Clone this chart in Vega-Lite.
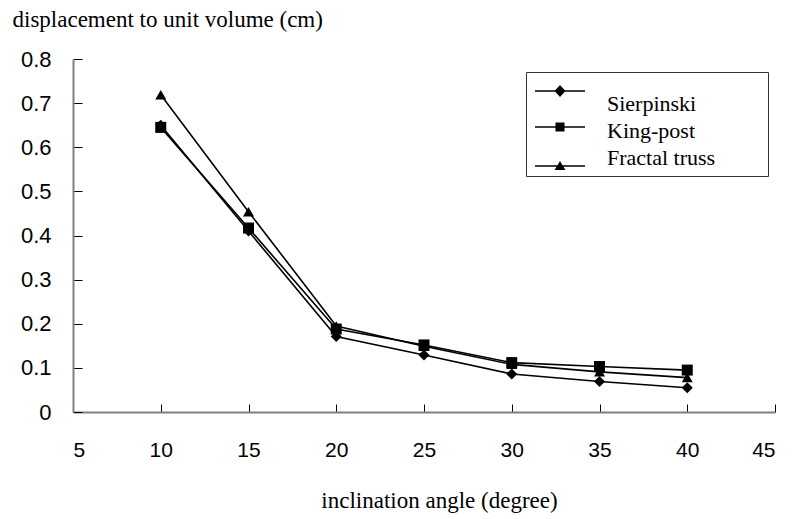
{
  "$schema": "https://vega.github.io/schema/vega-lite/v6.json",
  "width": 702,
  "height": 353,
  "autosize": {"type": "none"},
  "padding": {"left": 73, "top": 59, "right": 17, "bottom": 107},
  "background": "white",
  "config": {"view": {"stroke": null}},
  "data": {
    "values": [
      {"angle": 10, "disp": 0.650, "series": "Sierpinski"},
      {"angle": 15, "disp": 0.410, "series": "Sierpinski"},
      {"angle": 20, "disp": 0.171, "series": "Sierpinski"},
      {"angle": 25, "disp": 0.129, "series": "Sierpinski"},
      {"angle": 30, "disp": 0.086, "series": "Sierpinski"},
      {"angle": 35, "disp": 0.069, "series": "Sierpinski"},
      {"angle": 40, "disp": 0.055, "series": "Sierpinski"},
      {"angle": 10, "disp": 0.645, "series": "King-post"},
      {"angle": 15, "disp": 0.417, "series": "King-post"},
      {"angle": 20, "disp": 0.188, "series": "King-post"},
      {"angle": 25, "disp": 0.152, "series": "King-post"},
      {"angle": 30, "disp": 0.112, "series": "King-post"},
      {"angle": 35, "disp": 0.103, "series": "King-post"},
      {"angle": 40, "disp": 0.095, "series": "King-post"},
      {"angle": 10, "disp": 0.719, "series": "Fractal truss"},
      {"angle": 15, "disp": 0.454, "series": "Fractal truss"},
      {"angle": 20, "disp": 0.195, "series": "Fractal truss"},
      {"angle": 25, "disp": 0.149, "series": "Fractal truss"},
      {"angle": 30, "disp": 0.108, "series": "Fractal truss"},
      {"angle": 35, "disp": 0.091, "series": "Fractal truss"},
      {"angle": 40, "disp": 0.078, "series": "Fractal truss"}
    ]
  },
  "encoding": {
    "x": {
      "field": "angle", "type": "quantitative",
      "scale": {"domain": [5, 45], "nice": false, "zero": false},
      "axis": {
        "values": [5, 10, 15, 20, 25, 30, 35, 40, 45],
        "title": "inclination angle (degree)",
        "grid": false,
        "tickSize": -8,
        "tickColor": "#000000",
        "domainColor": "#808080",
        "domainWidth": 2,
        "labelFont": "Liberation Sans",
        "labelFontSize": 21,
        "labelColor": "#000000",
        "labelPadding": 35,
        "titleFont": "Liberation Serif",
        "titleFontSize": 23,
        "titleFontWeight": "normal",
        "titleColor": "#000000",
        "titlePadding": 29,
        "titleX": 366
      }
    },
    "y": {
      "field": "disp", "type": "quantitative",
      "scale": {"domain": [0, 0.8], "nice": false},
      "axis": {
        "values": [0, 0.1, 0.2, 0.3, 0.4, 0.5, 0.6, 0.7, 0.8],
        "format": ".1~f",
        "title": "displacement  to unit volume (cm)",
        "grid": false,
        "tickSize": -9,
        "tickColor": "#000000",
        "domainColor": "#808080",
        "domainWidth": 2,
        "labelFont": "Liberation Sans",
        "labelFontSize": 22,
        "labelColor": "#000000",
        "labelPadding": 31,
        "titleFont": "Liberation Serif",
        "titleFontSize": 23,
        "titleFontWeight": "normal",
        "titleColor": "#000000",
        "titleAngle": 0,
        "titleAlign": "left",
        "titleBaseline": "alphabetic",
        "titleX": -61,
        "titleY": -33
      }
    }
  },
  "resolve": {"scale": {"shape": "independent"}, "legend": {"shape": "independent"}},
  "layer": [
    {
      "mark": {"type": "line", "color": "#000000", "strokeWidth": 1.6},
      "encoding": {"detail": {"field": "series"}}
    },
    {
      "mark": {"type": "point", "filled": true, "color": "#000000", "opacity": 1, "size": 121},
      "encoding": {
        "shape": {
          "field": "series", "type": "nominal",
          "scale": {"domain": ["Sierpinski", "King-post", "Fractal truss"], "range": ["diamond", "square", "triangle-up"]},
          "legend": null
        }
      }
    },
    {
      "mark": {"type": "point", "filled": true, "color": "#000000", "opacity": 0, "size": 1},
      "encoding": {
        "shape": {
          "field": "series", "type": "nominal",
          "scale": {
            "domain": ["Sierpinski", "King-post", "Fractal truss"],
            "range": [
              "M-1.6,-2.75L8.4,-2.75L8.4,-2.45L-1.6,-2.45Z M3.4,-3.8L4.5,-2.6L3.4,-1.4L2.3,-2.6Z M43.8,-2.6Z",
              "M-1.6,-0.95L8.4,-0.95L8.4,-0.65L-1.6,-0.65Z M2.5,-1.7L4.3,-1.7L4.3,0.1L2.5,0.1Z M43.8,-0.8Z",
              "M-1.6,1.45L8.4,1.45L8.4,1.75L-1.6,1.75Z M3.4,0.6L4.5,2.4L2.3,2.4Z M43.8,1.6Z"
            ]
          },
          "legend": {
            "title": "\u00a0",
            "titleFontSize": 10,
            "titlePadding": 5,
            "orient": "none",
            "legendX": 453,
            "legendY": 13,
            "padding": 6,
            "rowPadding": 5,
            "strokeColor": "#333333",
            "fillColor": "white",
            "symbolSize": 100,
            "symbolFillColor": "#000000",
            "symbolStrokeColor": "#000000",
            "symbolStrokeWidth": 0,
            "symbolOpacity": 1,
            "labelFont": "Liberation Serif",
            "labelFontSize": 22,
            "labelColor": "#000000",
            "labelOffset": 53
          }
        }
      }
    }
  ]
}
